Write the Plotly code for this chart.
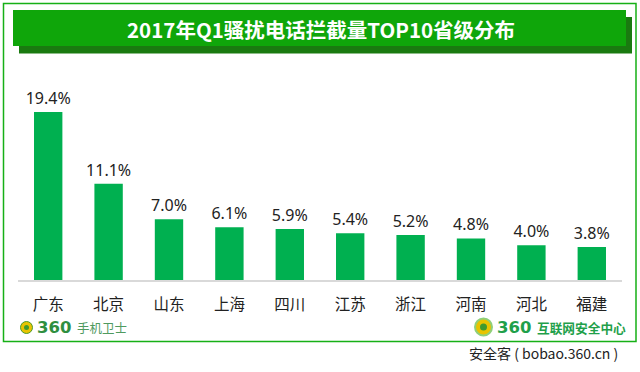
import plotly.graph_objects as go

provinces = ["广东", "北京", "山东", "上海", "四川", "江苏", "浙江", "河南", "河北", "福建"]
shares = [19.4, 11.1, 7.0, 6.1, 5.9, 5.4, 5.2, 4.8, 4.0, 3.8]
title_text = "2017年Q1骚扰电话拦截量TOP10省级分布"
logo_left = "手机卫士"
logo_right = "互联网安全中心"
logo_num = "360"
footer = "安全客 ( bobao.360.cn )"

W, H = 640, 372
CJK = "Noto Sans CJK SC"


def fx(p):
    return p / W


def fy(p):
    return 1 - p / H


def rect(x0, y0, x1, y1, fill, line=None, width=0):
    return dict(type="rect", xref="paper", yref="paper", x0=fx(x0), x1=fx(x1), y0=fy(y0), y1=fy(y1),
                fillcolor=fill, line=dict(color=line or fill, width=width), layer="below")


def circle(cx, cy, r, fill, line=None, width=0):
    return dict(type="circle", xref="paper", yref="paper", x0=fx(cx - r), x1=fx(cx + r), y0=fy(cy - r), y1=fy(cy + r),
                fillcolor=fill, line=dict(color=line or fill, width=width), layer="above")


def text(x, y, s, size, color, anchor="center", bold=False, family=CJK):
    return dict(xref="paper", yref="paper", x=fx(x), y=fy(y), text=f"<b>{s}</b>" if bold else s,
                showarrow=False, xanchor=anchor, yanchor="middle",
                font=dict(size=size, color=color, family=family))


fig = go.Figure(go.Bar(
    x=provinces, y=shares, width=0.47, marker=dict(color="#00b050", line=dict(width=0)),
    text=[f"{v:.1f}%" for v in shares], textposition="outside", cliponaxis=False,
    constraintext="none", textangle=0,
    textfont=dict(size=16, color="#222222", family="Noto Sans"),
))

shapes = [
    rect(3.5, 3.5, 636, 341.5, "white", "#16b016", 1.5),
    rect(19, 17, 632, 53.5, "#1a7a10"),
    rect(13, 10, 626, 46, "#0fa60a"),
    circle(26.5, 327.5, 6, "#e8c400", "#4c9a2a", 1),
    circle(26.5, 327.5, 2.5, "#3f9a2e"),
    circle(483.5, 327, 8.5, "#e8c400", "#8fcf7a", 2),
    circle(483.5, 327, 3.5, "#3f9a2e"),
]

annotations = [
    text(321, 29, title_text, 20.5, "white", bold=True),
    text(34.5, 327.5, logo_num, 16.5, "#2f8f3f", "left", True, "DejaVu Sans"),
    text(75, 327.5, logo_left, 12.5, "#4f9a5f", "left"),
    text(495, 327, logo_num, 16.5, "#1fa04a", "left", True, "DejaVu Sans"),
    text(535, 327, logo_right, 12.7, "#1fa04a", "left", True),
    text(467, 353, footer, 14, "#222222", "left"),
]

fig.update_layout(
    width=W, height=H, margin=dict(l=0, r=0, t=0, b=0, autoexpand=False),
    paper_bgcolor="white", plot_bgcolor="rgba(0,0,0,0)", showlegend=False,
    shapes=shapes, annotations=annotations,
    xaxis=dict(domain=[fx(18), fx(622)], showline=True, linecolor="#d9d9d9", linewidth=2,
               ticks="outside", ticklen=9, tickcolor="rgba(0,0,0,0)",
               tickfont=dict(size=15.5, color="#222222", family=CJK), fixedrange=True),
    yaxis=dict(domain=[fy(280), fy(60)], range=[0, 25.4], visible=False, fixedrange=True),
)

fig.write_html("out.html", post_script="document.body.style.margin='0';", config={"displayModeBar": False})
